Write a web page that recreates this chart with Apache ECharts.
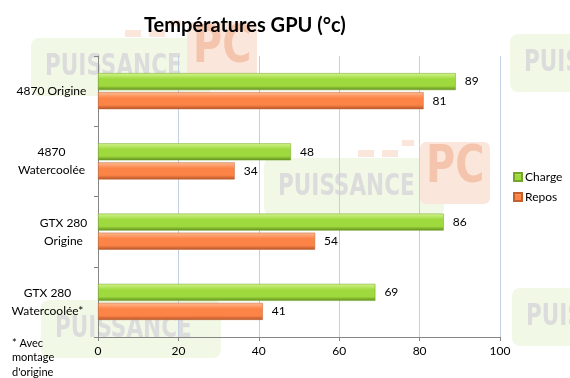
<!DOCTYPE html>
<html>
<head>
<meta charset="utf-8">
<script src="https://cdn.jsdelivr.net/npm/echarts@6/dist/echarts.min.js"></script>
<style>
  html, body { margin: 0; padding: 0; background: #fff; }
  #chart { width: 570px; height: 378px; }
</style>
</head>
<body>
<div id="chart"></div>
<script>
const categories = ['4870 Origine', '4870\nWatercoolée', 'GTX 280\nOrigine', 'GTX 280\nWatercoolée*'];
const charge = [89, 48, 86, 69];
const repos = [81, 34, 54, 41];
const xTicks = [0, 20, 40, 60, 80, 100];
const footnote = '* Avec\nmontage\nd\'origine';

const FONT = 'Lato, "Open Sans", sans-serif';

function barGrad(light, mid, dark) {
    return new echarts.graphic.LinearGradient(0, 0, 0, 1, [
        {offset: 0, color: light},
        {offset: 0.35, color: mid},
        {offset: 0.75, color: mid},
        {offset: 1, color: dark}
    ]);
}

// faint "PUISSANCE PC" watermarks behind the plot
function watermark(x, y, withPC) {
    const kids = [
        {type: 'rect', shape: {x: -14, y: -14, width: 180, height: 58, r: 8}, style: {fill: '#f1f8e6'}},
        {type: 'text', x: 0, y: 0, scaleX: 0.8, style: {text: 'PUISSANCE', font: 'bold 30px "DejaVu Sans Condensed", sans-serif', fill: '#dcdcdc'}}
    ];
    if (withPC) {
        kids.push(
            {type: 'rect', shape: {x: 142, y: -30, width: 70, height: 62, r: 6}, style: {fill: '#fbe6db'}},
            {type: 'rect', shape: {x: 80, y: -22, width: 16, height: 7}, style: {fill: '#fbe6db'}},
            {type: 'rect', shape: {x: 104, y: -22, width: 16, height: 7}, style: {fill: '#fbe6db'}},
            {type: 'rect', shape: {x: 124, y: -32, width: 12, height: 6}, style: {fill: '#fbe6db'}},
            {type: 'text', x: 148, y: -30, scaleX: 0.85, style: {text: 'PC', font: 'bold 52px "DejaVu Sans Condensed", sans-serif', fill: '#f5c4ad'}}
        );
    }
    return {type: 'group', x: x, y: y, z: -10, silent: true, children: kids};
}

const chart = echarts.init(document.getElementById('chart'));

chart.setOption({
    animation: false,
    textStyle: {fontFamily: FONT},
    title: {
        text: 'Températures GPU (°c)',
        left: 139,
        top: 11,
        textStyle: {fontSize: 20, fontWeight: 'bold', color: '#000', fontFamily: FONT}
    },
    graphic: [
        watermark(45, 52, true),
        watermark(278, 172, true),
        watermark(55, 314, false),
        watermark(524, 48, false),
        watermark(526, 302, false),
        {
            type: 'text',
            left: 12,
            top: 336,
            z: 10,
            style: {text: footnote, font: '11px ' + FONT, fill: '#000', lineHeight: 14.5}
        }
    ],
    legend: {
        orient: 'vertical',
        left: 508,
        top: 166,
        itemWidth: 8,
        itemHeight: 8,
        itemGap: 8,
        icon: 'rect',
        textStyle: {fontSize: 12, color: '#000', padding: [0, 0, 0, -2]},
        data: ['Charge', 'Repos']
    },
    grid: {left: 98, right: 70, top: 56, bottom: 41, containLabel: false},
    xAxis: {
        type: 'value',
        min: xTicks[0],
        max: xTicks[xTicks.length - 1],
        interval: xTicks[1] - xTicks[0],
        axisLine: {show: true, lineStyle: {color: '#868686'}},
        axisTick: {show: true, length: 4, lineStyle: {color: '#868686'}},
        axisLabel: {fontSize: 12, color: '#000', margin: 8},
        splitLine: {show: true, lineStyle: {color: '#c3cfe2'}}
    },
    yAxis: {
        type: 'category',
        inverse: true,
        data: categories,
        axisLine: {show: true, lineStyle: {color: '#868686'}},
        axisTick: {show: true, length: 4, lineStyle: {color: '#868686'}},
        axisLabel: {
            fontSize: 12,
            color: '#000',
            margin: 12,
            lineHeight: 18,
            formatter: (v, i) => v.split('\n').map(l => `{w${i}|${l}}`).join('\n'),
            rich: {
                w0: {width: 69, align: 'center', fontSize: 12, lineHeight: 18},
                w1: {width: 69, align: 'center', fontSize: 12, lineHeight: 18},
                w2: {width: 45, align: 'center', fontSize: 12, lineHeight: 18},
                w3: {width: 77, align: 'center', fontSize: 12, lineHeight: 18}
            }
        },
        splitLine: {show: false}
    },
    series: [
        {
            name: 'Charge',
            type: 'bar',
            data: charge,
            barWidth: 17,
            barGap: '12%',
            itemStyle: {
                color: barGrad('#d4f58e', '#9ed93e', '#5f8c1c'),
                borderColor: '#74a52a',
                borderWidth: 0.5
            },
            label: {show: true, position: 'right', distance: 9, fontSize: 12, color: '#000'}
        },
        {
            name: 'Repos',
            type: 'bar',
            data: repos,
            barWidth: 17,
            itemStyle: {
                color: barGrad('#ffbb92', '#fd8447', '#b6552a'),
                borderColor: '#c0602e',
                borderWidth: 0.5
            },
            label: {show: true, position: 'right', distance: 9, fontSize: 12, color: '#000'}
        }
    ]
});
</script>
</body>
</html>
